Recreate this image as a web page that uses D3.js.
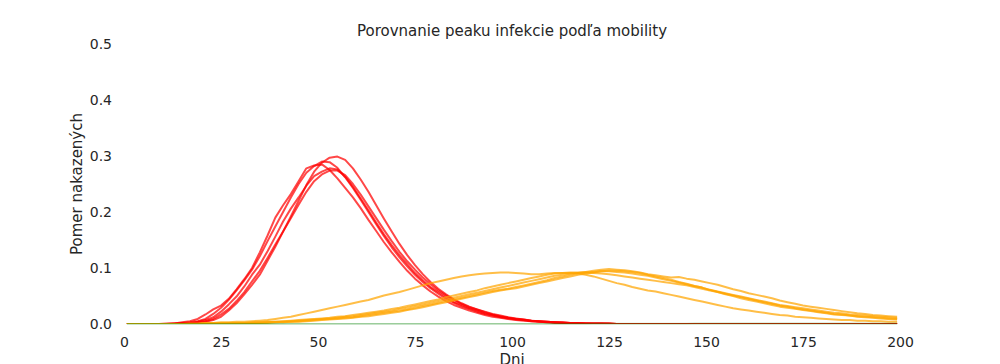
<!DOCTYPE html>
<html><head><meta charset="utf-8">
<script src="https://cdn.jsdelivr.net/npm/d3@7"></script>
<style>body{margin:0;background:#fff} svg{display:block}</style>
</head><body><svg id="c" width="1000" height="364"></svg>
<script>
const days = [1,3,5,7,9,11,13,15,17,19,21,23,25,27,29,31,33,35,37,39,41,43,45,47,49,51,53,55,57,59,61,63,65,67,69,71,73,75,77,79,81,83,85,87,89,91,93,95,97,99,101,103,105,107,109,111,113,115,117,119,121,123,125,127,129,131,133,135,137,139,141,143,145,147,149,151,153,155,157,159,161,163,165,167,169,171,173,175,177,179,181,183,185,187,189,191,193,195,197,199];

const red1 = [0,0,0,0,0,0.001,0.001,0.003,0.005,0.009,
  0.017,0.026,0.033,0.045,0.062,0.08,0.1,0.128,0.158,0.19,
  0.212,0.232,0.255,0.278,0.283,0.285,0.275,0.26,0.243,0.226,
  0.207,0.186,0.166,0.146,0.128,0.111,0.095,0.081,0.069,0.058,
  0.049,0.041,0.034,0.029,0.024,0.02,0.016,0.013,0.011,0.009,
  0.007,0.006,0.005,0.004,0.003,0.002,0.002,0.001,0.001,0.001,
  0,0,0,0,0,0,0,0,0,0, 0,0,0,0,0,0,0,0,0,0,
  0,0,0,0,0,0,0,0,0,0, 0,0,0,0,0,0,0,0,0,0];
const red2 = [0,0,0,0,0,0,0.001,0.002,0.003,0.005,
  0.009,0.018,0.029,0.043,0.06,0.078,0.097,0.121,0.148,0.174,
  0.2,0.226,0.25,0.27,0.282,0.29,0.289,0.279,0.262,0.243,
  0.222,0.2,0.178,0.157,0.137,0.119,0.103,0.088,0.075,0.064,
  0.054,0.045,0.038,0.032,0.027,0.022,0.018,0.015,0.012,0.01,
  0.008,0.007,0.005,0.004,0.003,0.003,0.002,0.002,0.001,0.001,
  0.001,0.001,0,0,0,0,0,0,0,0, 0,0,0,0,0,0,0,0,0,0,
  0,0,0,0,0,0,0,0,0,0, 0,0,0,0,0,0,0,0,0,0];
const red3 = [0,0,0,0,0,0,0,0.001,0.001,0.002,
  0.004,0.007,0.013,0.024,0.037,0.053,0.07,0.088,0.113,0.138,
  0.165,0.192,0.22,0.248,0.272,0.288,0.297,0.299,0.293,0.278,
  0.258,0.236,0.212,0.188,0.165,0.143,0.123,0.105,0.089,0.075,
  0.063,0.053,0.044,0.037,0.031,0.026,0.022,0.018,0.015,0.012,
  0.01,0.008,0.006,0.005,0.004,0.003,0.003,0.002,0.002,0.001,
  0.001,0.001,0.001,0,0,0,0,0,0,0, 0,0,0,0,0,0,0,0,0,0,
  0,0,0,0,0,0,0,0,0,0, 0,0,0,0,0,0,0,0,0,0];
const red4 = [0,0,0,0,0,0,0.001,0.001,0.002,0.004,
  0.007,0.012,0.022,0.035,0.049,0.067,0.088,0.106,0.13,0.156,
  0.183,0.206,0.226,0.247,0.264,0.272,0.278,0.276,0.263,0.245,
  0.224,0.203,0.181,0.16,0.141,0.123,0.107,0.091,0.078,0.066,
  0.057,0.048,0.039,0.034,0.028,0.024,0.019,0.016,0.013,0.011,
  0.009,0.007,0.006,0.005,0.004,0.003,0.002,0.002,0.002,0.001,
  0.001,0.001,0.001,0,0,0,0,0,0,0, 0,0,0,0,0,0,0,0,0,0,
  0,0,0,0,0,0,0,0,0,0, 0,0,0,0,0,0,0,0,0,0];
const red5 = [0,0,0,0,0,0,0,0.001,0.001,0.003,
  0.005,0.009,0.017,0.027,0.041,0.057,0.076,0.095,0.118,0.142,
  0.165,0.189,0.213,0.236,0.255,0.267,0.274,0.274,0.266,0.25,
  0.231,0.21,0.189,0.168,0.148,0.129,0.112,0.097,0.083,0.071,
  0.06,0.051,0.043,0.036,0.03,0.026,0.021,0.017,0.014,0.011,
  0.009,0.008,0.006,0.005,0.004,0.003,0.003,0.002,0.002,0.001,
  0.001,0.001,0.001,0,0,0,0,0,0,0, 0,0,0,0,0,0,0,0,0,0,
  0,0,0,0,0,0,0,0,0,0, 0,0,0,0,0,0,0,0,0,0];

const orange1 = [0,0,0,0,0,0,0,0,0.001,0.001,
  0.002,0.002,0.003,0.003,0.004,0.004,0.005,0.006,0.007,0.009,
  0.011,0.013,0.016,0.019,0.022,0.025,0.028,0.031,0.034,0.037,
  0.04,0.043,0.047,0.051,0.054,0.057,0.061,0.065,0.069,0.073,
  0.076,0.079,0.082,0.085,0.087,0.089,0.09,0.091,0.092,0.092,
  0.091,0.09,0.089,0.089,0.09,0.091,0.091,0.091,0.09,0.088,
  0.085,0.081,0.077,0.073,0.07,0.066,0.063,0.06,0.058,0.055,
  0.052,0.049,0.046,0.043,0.04,0.037,0.034,0.031,0.028,0.026,
  0.024,0.022,0.02,0.018,0.016,0.015,0.013,0.012,0.011,0.01,
  0.009,0.008,0.007,0.007,0.006,0.006,0.005,0.005,0.004,0.004];
const orange2 = [0,0,0,0,0,0,0,0,0,0,
  0.001,0.001,0.001,0.001,0.001,0.002,0.002,0.002,0.003,0.003,
  0.004,0.004,0.005,0.006,0.007,0.008,0.009,0.01,0.011,0.012,
  0.014,0.016,0.018,0.02,0.022,0.024,0.026,0.029,0.032,0.035,
  0.038,0.041,0.044,0.047,0.05,0.053,0.056,0.059,0.061,0.063,
  0.066,0.069,0.072,0.075,0.078,0.082,0.085,0.088,0.091,0.093,
  0.095,0.097,0.098,0.097,0.096,0.094,0.092,0.089,0.087,0.085,
  0.083,0.084,0.081,0.079,0.076,0.073,0.07,0.066,0.062,0.059,
  0.055,0.052,0.049,0.046,0.042,0.039,0.036,0.033,0.031,0.029,
  0.027,0.025,0.023,0.021,0.019,0.018,0.016,0.015,0.014,0.013];
const orange3 = [0,0,0,0,0,0,0,0,0,0,
  0.001,0.001,0.001,0.001,0.002,0.002,0.002,0.003,0.003,0.004,
  0.004,0.005,0.006,0.007,0.008,0.009,0.01,0.011,0.013,0.014,
  0.016,0.018,0.02,0.022,0.024,0.027,0.029,0.032,0.035,0.038,
  0.041,0.044,0.047,0.05,0.053,0.056,0.059,0.062,0.065,0.068,
  0.071,0.074,0.077,0.08,0.083,0.086,0.088,0.09,0.091,0.092,
  0.093,0.094,0.094,0.093,0.092,0.09,0.088,0.086,0.083,0.08,
  0.077,0.074,0.071,0.068,0.065,0.061,0.058,0.055,0.052,0.049,
  0.046,0.043,0.04,0.037,0.034,0.032,0.03,0.028,0.026,0.024,
  0.022,0.02,0.019,0.017,0.016,0.015,0.014,0.013,0.012,0.011];
const orange4 = [0,0,0,0,0,0,0,0,0,0,
  0.001,0.001,0.001,0.002,0.002,0.002,0.003,0.003,0.004,0.004,
  0.005,0.006,0.007,0.008,0.009,0.01,0.011,0.013,0.014,0.016,
  0.018,0.02,0.022,0.024,0.027,0.029,0.032,0.035,0.038,0.041,
  0.044,0.048,0.051,0.054,0.057,0.06,0.064,0.067,0.07,0.073,
  0.076,0.079,0.082,0.085,0.088,0.09,0.091,0.092,0.092,0.092,
  0.091,0.09,0.089,0.087,0.085,0.083,0.081,0.079,0.077,0.075,
  0.073,0.071,0.069,0.066,0.063,0.06,0.057,0.054,0.051,0.048,
  0.045,0.042,0.039,0.036,0.033,0.031,0.028,0.026,0.024,0.022,
  0.02,0.018,0.017,0.015,0.014,0.013,0.012,0.011,0.01,0.009];
const orange5 = [0,0,0,0,0,0,0,0,0,0,
  0,0.001,0.001,0.001,0.001,0.001,0.002,0.002,0.002,0.003,
  0.003,0.004,0.004,0.005,0.006,0.007,0.008,0.009,0.01,0.011,
  0.013,0.014,0.016,0.018,0.02,0.022,0.025,0.027,0.03,0.033,
  0.036,0.039,0.042,0.045,0.048,0.051,0.054,0.057,0.06,0.062,
  0.064,0.067,0.07,0.073,0.076,0.079,0.082,0.085,0.088,0.09,
  0.092,0.094,0.095,0.095,0.094,0.093,0.091,0.088,0.085,0.082,
  0.079,0.075,0.072,0.068,0.065,0.061,0.057,0.053,0.05,0.046,
  0.043,0.04,0.037,0.034,0.031,0.029,0.027,0.025,0.023,0.021,
  0.019,0.017,0.016,0.015,0.013,0.012,0.011,0.01,0.009,0.008];

const green1 = [0,0,0,0,0,0,0,0,0,0, 0,0,0,0,0,0,0,0,0,0,
  0,0,0,0,0,0,0,0,0,0, 0,0,0,0,0,0,0,0,0,0,
  0,0,0,0,0,0,0,0,0,0, 0,0,0,0,0,0,0,0,0,0,
  0,0,0,0,0,0,0,0,0,0, 0,0,0,0,0,0,0,0,0,0,
  0,0,0,0,0,0,0,0,0,0, 0,0,0,0,0,0,0,0,0,0];
const green2 = [0,0,0,0,0,0,0,0,0,0, 0,0,0,0,0,0,0,0,0,0,
  0,0,0,0,0,0,0,0,0,0, 0,0,0,0,0,0,0,0,0,0,
  0,0,0,0,0,0,0,0,0,0, 0,0,0,0,0,0,0,0,0,0,
  0.0003,0.0003,0.0004,0.0004,0.0004,0.0005,0.0005,0.0005,0.0005,0.0006,
  0.0006,0.0006,0.0006,0.0007,0.0007,0.0007,0.0007,0.0007,0.0008,0.0008,
  0.0008,0.0008,0.0008,0.0008,0.0009,0.0009,0.0009,0.0009,0.0009,0.0009,
  0.0009,0.0009,0.0009,0.0009,0.0009,0.0009,0.0009,0.0009,0.0009,0.0009];

const xTicks = [0,25,50,75,100,125,150,175,200];
const yTicks = [0,0.1,0.2,0.3,0.4,0.5];
const yTickLabels = ["0.0","0.1","0.2","0.3","0.4","0.5"];
const titleText = "Porovnanie peaku infekcie podľa mobility";
const xLabel = "Dni";
const yLabel = "Pomer nakazených";

const redSeries = [red1, red2, red3, red4, red5];
const orangeSeries = [orange1, orange2, orange3, orange4, orange5];
const greenSeries = [green1, green2];

const svg = d3.select('#c');
const FONT = "DejaVu Sans, Verdana, sans-serif";
const TXT = "#262626";
const x = d3.scaleLinear().domain([0, 200]).range([124, 900]);
const y = d3.scaleLinear().domain([0, 0.5]).range([324, 44]);

const defs = svg.append("defs");
defs.append("clipPath").attr("id", "clip")
  .append("rect").attr("x", x(0)).attr("y", y(0.5)).attr("width", x(200) - x(0)).attr("height", y(0) - y(0.5));
defs.append("clipPath").attr("id", "clipG")
  .append("rect").attr("x", x(0)).attr("y", y(0.5)).attr("width", x(200) - x(0)).attr("height", y(0) - y(0.5) + 0.6);

const line = d3.line().x((d, i) => x(days[i])).y(d => y(d));
const g = svg.append("g").attr("clip-path", "url(#clip)");
const gG = svg.append("g").attr("clip-path", "url(#clipG)");

function draw(target, series, color, op) {
  target.selectAll(null).data(series).enter().append("path")
    .attr("d", d => line(d))
    .attr("fill", "none").attr("stroke", color).attr("stroke-opacity", op)
    .attr("stroke-width", 2).attr("stroke-linejoin", "round").attr("stroke-linecap", "square");
}
draw(g, redSeries, "#ff0000", 0.72);
draw(g, orangeSeries, "#ffa500", 0.72);
draw(gG, greenSeries, "#008000", 0.22);

const xAxis = svg.append("g").attr("transform", `translate(0,${y(0)})`)
  .call(d3.axisBottom(x).tickValues(xTicks).tickSize(0).tickPadding(13).tickFormat(d3.format("d")));
const yAxis = svg.append("g").attr("transform", `translate(${x(0)},0)`)
  .call(d3.axisLeft(y).tickValues(yTicks).tickSize(0).tickPadding(12).tickFormat((d, i) => yTickLabels[i]));
[xAxis, yAxis].forEach(a => {
  a.select(".domain").remove();
  a.selectAll("text").attr("font-family", FONT).attr("font-size", 14).attr("fill", TXT);
});

svg.append("text").attr("x", 512).attr("y", 36).attr("text-anchor", "middle")
  .attr("font-family", FONT).attr("font-size", 15).attr("fill", TXT).text(titleText);
svg.append("text").attr("x", 512).attr("y", 365).attr("text-anchor", "middle")
  .attr("font-family", FONT).attr("font-size", 15).attr("fill", TXT).text(xLabel);
svg.append("text").attr("transform", `translate(82,${(y(0) + y(0.5)) / 2}) rotate(-90)`).attr("text-anchor", "middle")
  .attr("font-family", FONT).attr("font-size", 15).attr("fill", TXT).text(yLabel);
</script></body></html>
